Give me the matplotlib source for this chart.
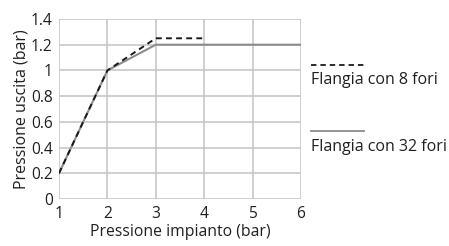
import matplotlib
matplotlib.use("Agg")
import matplotlib.pyplot as plt
from matplotlib.lines import Line2D

plt.rcParams['font.family'] = ['Open Sans', 'DejaVu Sans']

x_8 = [1, 2, 3, 4]
y_8 = [0.2, 1.0, 1.25, 1.25]
x_32 = [1, 2, 3, 6]
y_32 = [0.2, 1.0, 1.2, 1.2]
labels = ["Flangia con 8 fori", "Flangia con 32 fori"]
xticks = [1, 2, 3, 4, 5, 6]
yticks = [0, 0.2, 0.4, 0.6, 0.8, 1, 1.2, 1.4]
ytick_labels = ["0", "0.2", "0.4", "0.6", "0.8", "1", "1.2", "1.4"]

W, H = 449, 246
fig = plt.figure(figsize=(W / 100, H / 100), dpi=100)
ax = fig.add_axes([59 / W, 1 - 199 / H, (301 - 59) / W, (199 - 19) / H])

ax.plot(x_32, y_32, color="#8c8c8c", lw=1.5, zorder=3)
ax.plot(x_8, y_8, color="#1a1a1a", lw=1.4, dashes=(3, 2.2), zorder=4)

ax.set_xlim(1, 6)
ax.set_ylim(0, 1.4)
ax.set_xticks(xticks)
ax.set_yticks(yticks)
ax.set_yticklabels(ytick_labels)
ax.grid(True, color="#c4c4c4", lw=1.1)
ax.set_axisbelow(True)
for s in ax.spines.values():
    s.set_visible(False)
ax.tick_params(length=0, labelsize=11.2, colors="#231f20")
ax.tick_params(axis="y", pad=4.5)
ax.tick_params(axis="x", pad=5)
ax.set_xlabel("Pressione impianto (bar)", fontsize=11.3, color="#231f20", labelpad=1.5)
ax.set_ylabel("Pressione uscita (bar)", fontsize=11.5, color="#231f20", labelpad=1)

# legend drawn beside the plot
fig.add_artist(Line2D([311 / W, 366 / W], [1 - 65 / H] * 2, color="#1a1a1a",
                      lw=1.3, dashes=(3, 2.2)))
fig.text(311 / W, 1 - 80 / H, labels[0], fontsize=11.5, color="#231f20", va="center")
fig.add_artist(Line2D([311 / W, 364 / W], [1 - 130.5 / H] * 2, color="#8c8c8c", lw=1.3))
fig.text(311 / W, 1 - 147 / H, labels[1], fontsize=11.5, color="#231f20", va="center")

fig.savefig("out.png", dpi=100)
